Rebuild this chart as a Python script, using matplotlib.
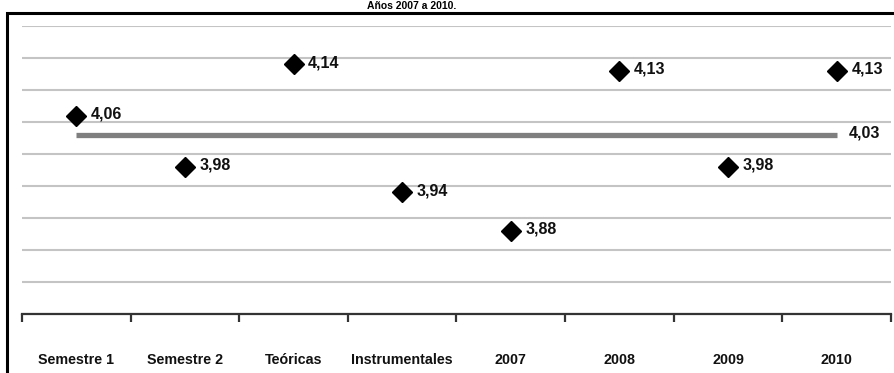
import matplotlib
matplotlib.use("Agg")
import matplotlib.pyplot as plt
from matplotlib.patches import Rectangle
from matplotlib.ticker import MultipleLocator, FixedLocator

categories = ["Semestre 1", "Semestre 2", "Teóricas", "Instrumentales", "2007", "2008", "2009", "2010"]
values = [4.06, 3.98, 4.14, 3.94, 3.88, 4.13, 3.98, 4.13]
mean_value = 4.03
title = "Años 2007 a 2010."

plt.rcParams['font.family'] = ['Liberation Sans', 'DejaVu Sans']

W, H = 895, 373
fig = plt.figure(figsize=(W / 100, H / 100), dpi=100)

# outer chart frame (partially cut by image border)
fig.patches.append(Rectangle((7.5 / W, -0.05), 1.1, (H - 12.5) / H + 0.05,
                             transform=fig.transFigure, fill=False,
                             edgecolor='black', linewidth=2.2, zorder=0))

fig.text(412 / W, (H - 1) / H, title, ha='center', va='top',
         fontsize=7.5, fontweight='bold')

ax = fig.add_axes([22 / W, (H - 314) / H, (891 - 22) / W, (314 - 26) / H])
n = len(categories)
x = list(range(n))
ax.set_xlim(-0.5, n - 0.5)
ax.set_ylim(3.75, 4.20)

ax.yaxis.set_major_locator(MultipleLocator(0.05))
ax.grid(axis='y', color='#c4c4c4', linewidth=1.5)
ax.set_axisbelow(True)
ax.tick_params(axis='y', left=False, labelleft=False)

for s in ['left', 'right', 'top']:
    ax.spines[s].set_visible(False)
ax.spines['bottom'].set_color('#333333')
ax.spines['bottom'].set_linewidth(1.6)

ax.set_xticks(x)
ax.set_xticklabels(categories, fontsize=10.3, fontweight='bold', color='#111111')
ax.tick_params(axis='x', which='major', length=0, pad=28)
ax.xaxis.set_minor_locator(FixedLocator([i - 0.5 for i in range(n + 1)]))
ax.tick_params(axis='x', which='minor', length=6, width=1.6, color='#333333', direction='out')

# mean line
ax.plot([x[0], x[-1]], [mean_value, mean_value], color='#7f7f7f', linewidth=3.8,
        solid_capstyle='butt', zorder=2)
ax.annotate(f"{mean_value:.2f}".replace('.', ','), (x[-1], mean_value),
            xytext=(9, 1), textcoords='offset points', va='center', ha='left',
            fontsize=11.5, fontweight='bold', color='#111111')

ax.plot(x, values, linestyle='none', marker='D', markersize=10.5, color='black', zorder=3)
for xi, v in zip(x, values):
    ax.annotate(f"{v:.2f}".replace('.', ','), (xi, v), xytext=(10.5, 1),
                textcoords='offset points', va='center', ha='left',
                fontsize=11.5, fontweight='bold', color='#111111')

fig.savefig("out.png", dpi=100)
